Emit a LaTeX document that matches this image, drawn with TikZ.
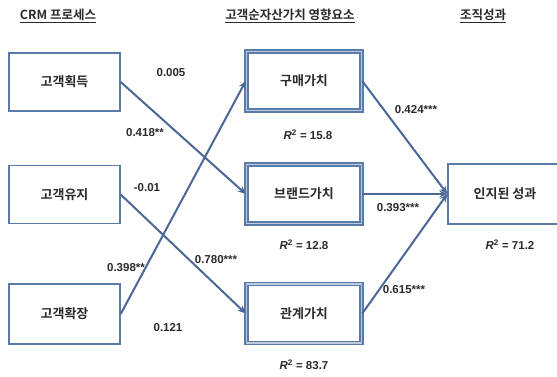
\documentclass[tikz,border=0pt]{standalone}
\usepackage{fontspec}
\setmainfont{Liberation Sans}
\newfontfamily\kr{Noto Sans CJK KR}[UprightFont=* Bold]
\usetikzlibrary{arrows.meta}
\definecolor{edgec}{HTML}{4A6796}
\definecolor{boxc}{HTML}{5A7AAA}
\definecolor{txt}{HTML}{2A2A2A}
\begin{document}
\begin{tikzpicture}[x=1pt,y=-1pt,
  box/.style={draw=boxc, line width=1.4pt, minimum width=111pt, minimum height=58pt, inner sep=0pt,
    font=\kr\fontsize{13}{15}\selectfont, text=txt},
  midbox/.style={box, line width=1.5pt, double=boxc!40, double distance=1.4pt, minimum width=115pt, minimum height=59pt},
  arr/.style={draw=edgec, line width=2pt, -{Stealth[length=8pt,width=7pt]}},
  lbl/.style={font=\bfseries\fontsize{11.5}{12}\selectfont, text=txt, inner sep=0pt},
  hdr/.style={font=\kr\fontsize{12.5}{14}\selectfont, text=txt, inner sep=0pt}]
\useasboundingbox (0,0) rectangle (557,376);

% headers
\node[hdr] (h1) at (58,16) {\underline{CRM 프로세스}};
\node[hdr] (h2) at (290,16) {\underline{고객순자산가치 영향요소}};
\node[hdr] (h3) at (483,16) {\underline{조직성과}};

% left boxes
\node[box] (a1) at (64.5,82) {고객획득};
\node[box] (a2) at (64.5,194.5) {고객유지};
\node[box, minimum height=60pt] (a3) at (64.5,314) {고객확장};

% middle boxes
\node[midbox] (b1) at (304,81) {구매가치};
\node[midbox] (b2) at (304,194) {브랜드가치};
\node[midbox] (b3) at (304,313.5) {관계가치};

% right box
\node[box, minimum width=114pt, minimum height=60pt] (c1) at (505,194) {인지된 성과};

% arrows
\draw[arr] (a1.east) -- (b2.west);
\draw[arr] (a2.east) -- (b3.west);
\draw[arr] (a3.east) -- (b1.west);
\draw[arr] (b1.east) -- (c1.west);
\draw[arr] (b2.east) -- (c1.west);
\draw[arr] (b3.east) -- (c1.west);

% path labels
\node[lbl] (l1) at (171,73) {0.005};
\node[lbl] (l2) at (145,133) {0.418**};
\node[lbl] (l3) at (147,188) {-0.01};
\node[lbl] (l4) at (216,260) {0.780***};
\node[lbl] (l5) at (126,268) {0.398**};
\node[lbl] (l6) at (168,328) {0.121};
\node[lbl] (l7) at (416,110) {0.424***};
\node[lbl] (l8) at (398,208) {0.393***};
\node[lbl] (l9) at (404,290) {0.615***};

% R squared
\node[lbl] (r1) at (308,135) {\textit{R}\textsuperscript{2} = 15.8};
\node[lbl] (r2) at (304,245) {\textit{R}\textsuperscript{2} = 12.8};
\node[lbl] (r3) at (304,365) {\textit{R}\textsuperscript{2} = 83.7};
\node[lbl] (r4) at (510,245) {\textit{R}\textsuperscript{2} = 71.2};
\end{tikzpicture}
\end{document}
